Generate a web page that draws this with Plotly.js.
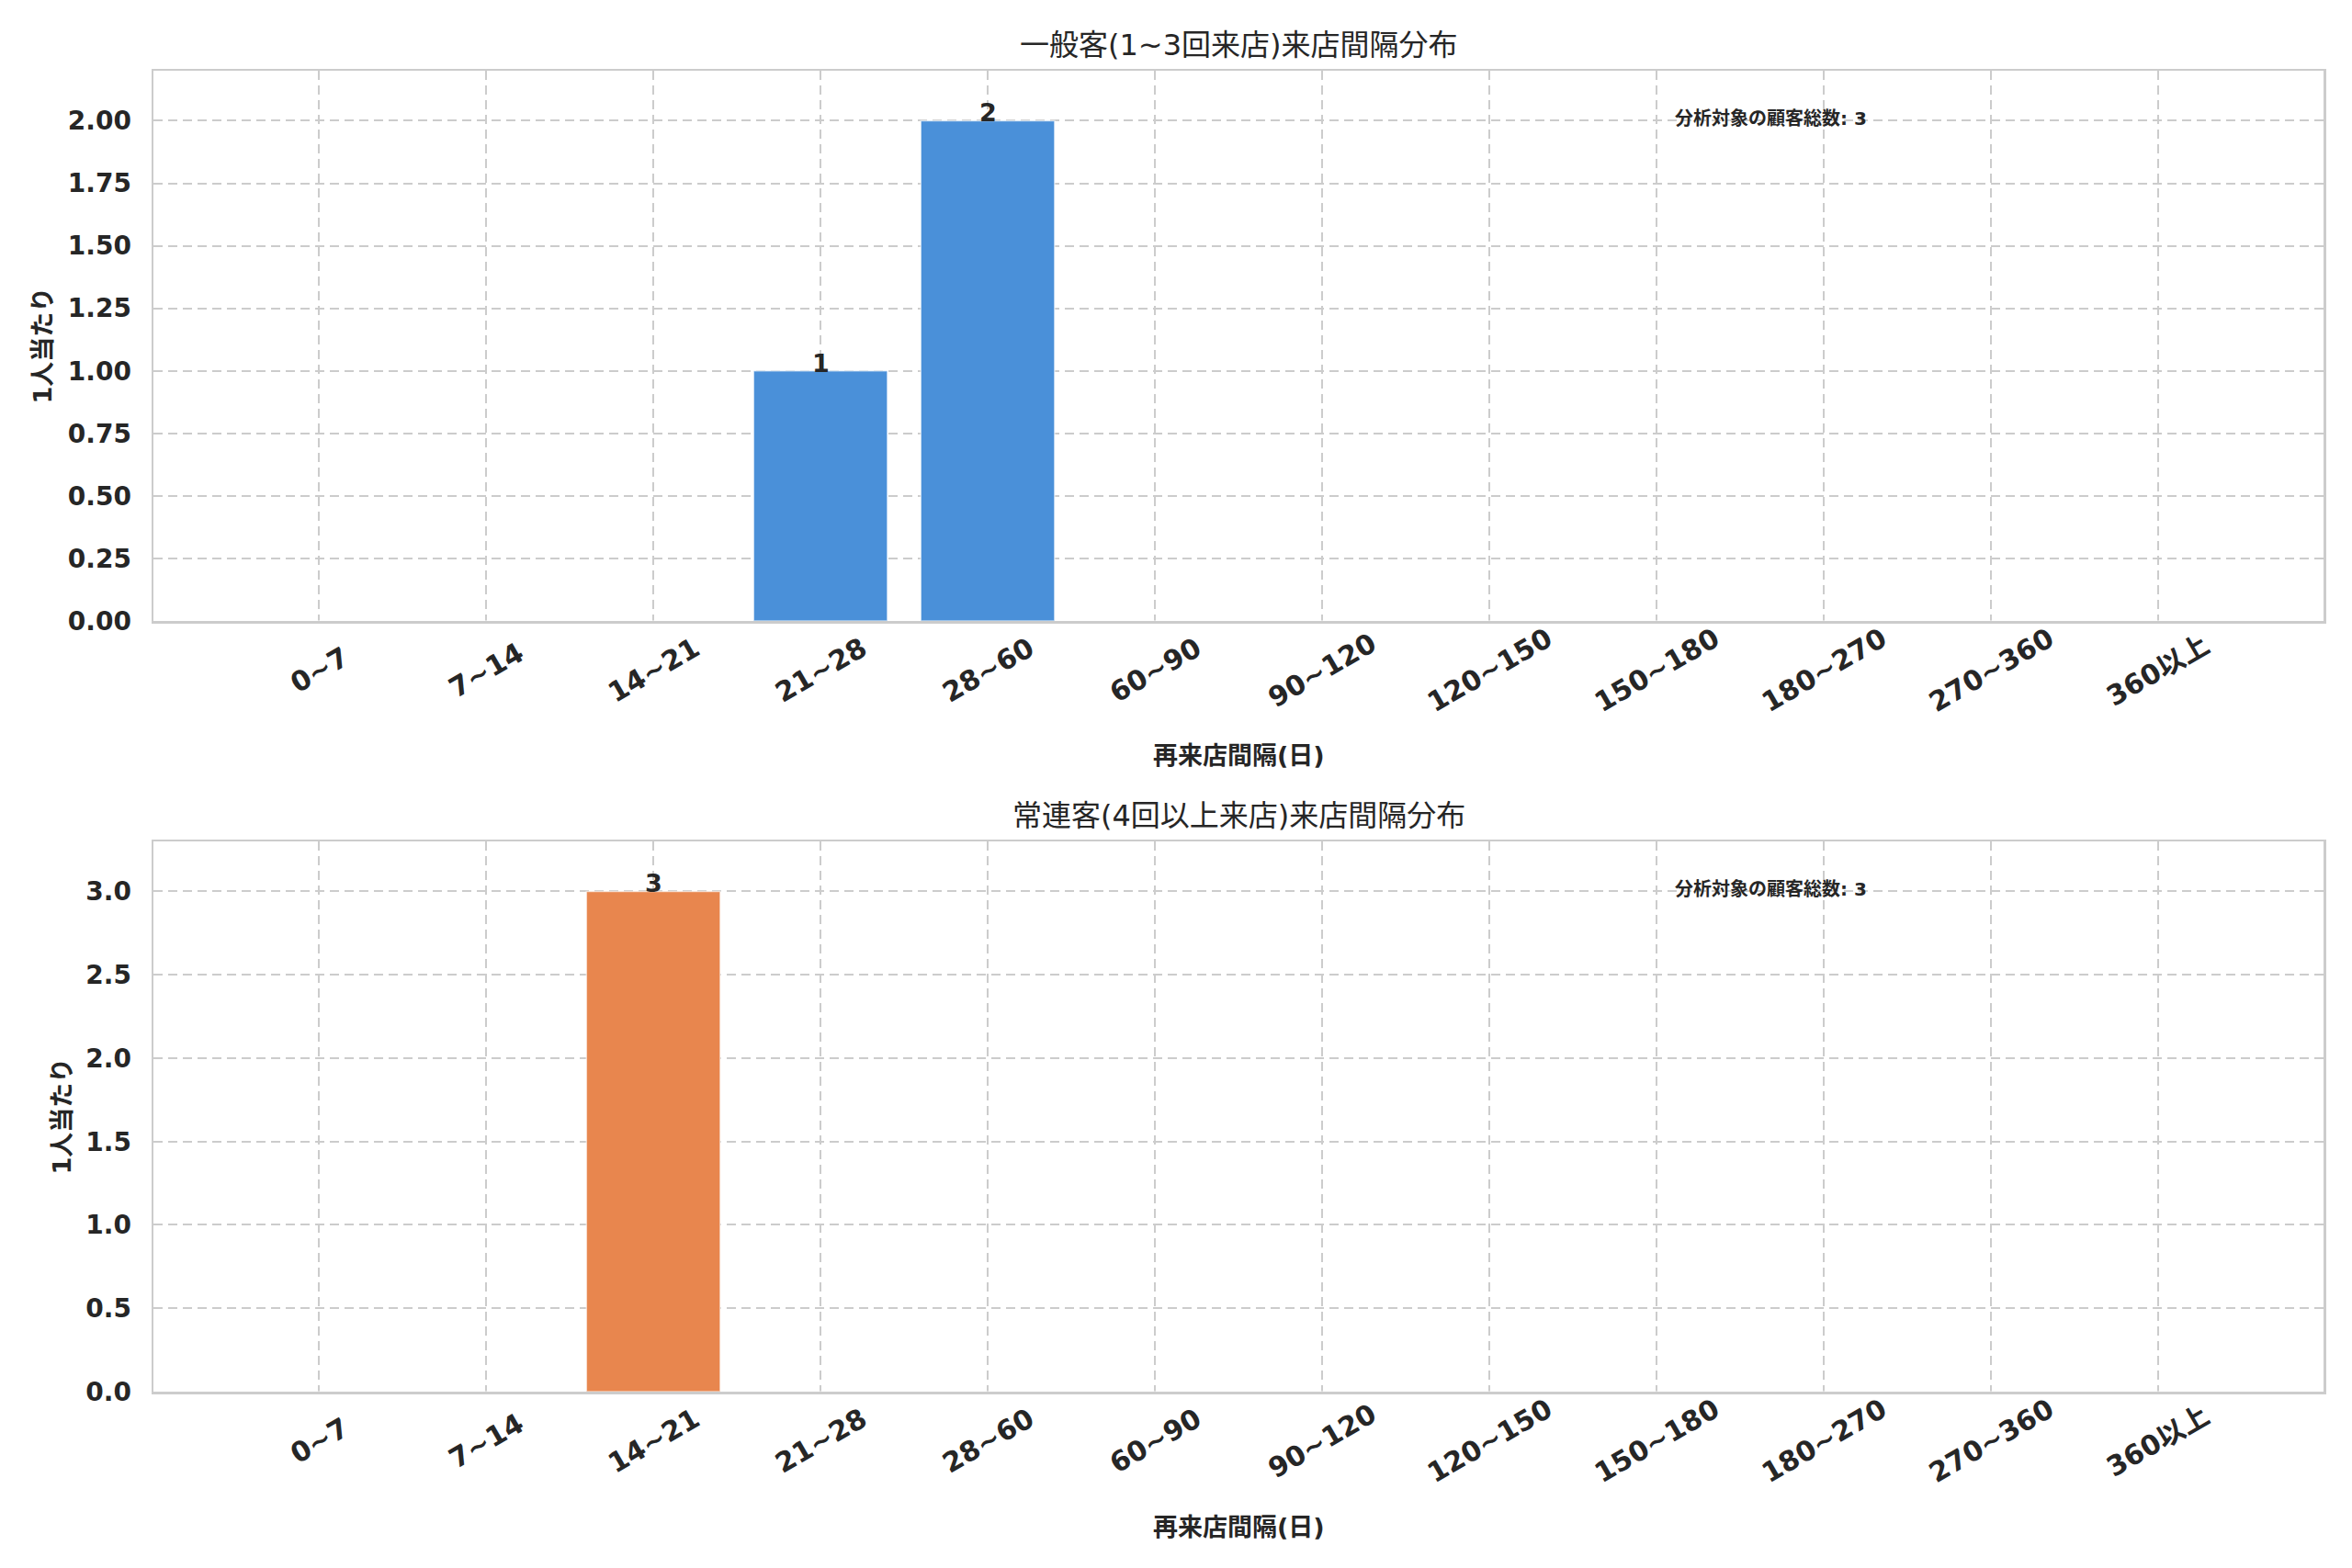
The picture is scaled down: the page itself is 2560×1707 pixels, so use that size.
<!DOCTYPE html>
<html>
<head>
<meta charset="utf-8">
<script src="https://cdn.plot.ly/plotly-3.0.1.min.js"></script>
<style>
  html, body { margin: 0; padding: 0; background: #fff; }
  #chart { width: 2560px; height: 1707px; }
</style>
</head>
<body>
<div id="chart"></div>
<script>
'use strict';

// data
const intervalBins = ['0~7', '7~14', '14~21', '21~28', '28~60', '60~90', '90~120', '120~150', '150~180', '180~270', '270~360', '360以上'];
const lightCounts = [0, 0, 0, 1, 2, 0, 0, 0, 0, 0, 0, 0];
const heavyCounts = [0, 0, 3, 0, 0, 0, 0, 0, 0, 0, 0, 0];
const lightTotal = 3;
const heavyTotal = 3;

const lightTitle = '一般客(1~3回来店)来店間隔分布';
const heavyTitle = '常連客(4回以上来店)来店間隔分布';
const xLabel = '再来店間隔(日)';
const yLabel = '1人当たり';
const totalLabel = '分析対象の顧客総数';

const FONT = 'DejaVu Sans, Noto Sans CJK JP, sans-serif';
const INK = '#262626';
const GRID = '#cccccc';

// panel geometry (paper fractions, margins are zero)
const W = 2560, H = 1707;
const xDom = [167 / W, 2529 / W];
const panels = [
    { counts: lightCounts, total: lightTotal, title: lightTitle, color: '#4a90d9', top: 77, bottom: 676, range: [0, 2.2], dtick: 0.25, fmt: '.2f', ylabX: 46 },
    { counts: heavyCounts, total: heavyTotal, title: heavyTitle, color: '#e8864e', top: 916, bottom: 1515, range: [0, 3.3], dtick: 0.5, fmt: '.1f', ylabX: 67 }
];
const py = px => 1 - px / H;

const traces = [], annotations = [];
const layout = {
    width: W, height: H,
    margin: { l: 0, r: 0, t: 0, b: 0 },
    paper_bgcolor: '#fff', plot_bgcolor: '#fff',
    showlegend: false, bargap: 0.2, hovermode: false,
    font: { family: FONT, color: INK }
};

panels.forEach((p, i) => {
    const n = i + 1, xa = n === 1 ? 'x' : 'x2', ya = n === 1 ? 'y' : 'y2';
    traces.push({
        x: intervalBins, y: p.counts, type: 'bar', xaxis: xa, yaxis: ya, width: 0.8,
        marker: { color: p.color, line: { color: 'rgba(255,255,255,0.6)', width: 1.5 } }
    });
    layout[n === 1 ? 'xaxis' : 'xaxis2'] = {
        domain: xDom, anchor: ya, type: 'category', categoryorder: 'array', categoryarray: intervalBins,
        range: [-0.99, intervalBins.length - 0.01], showticklabels: false, ticks: '',
        showgrid: true, gridcolor: GRID, gridwidth: 2, griddash: '10px,6px',
        showline: true, mirror: true, linecolor: GRID, linewidth: 2.5, zeroline: false
    };
    layout[n === 1 ? 'yaxis' : 'yaxis2'] = {
        domain: [py(p.bottom), py(p.top)], anchor: xa, range: p.range, dtick: p.dtick, tick0: 0, tickformat: p.fmt,
        ticks: '', ticklabelstandoff: 16, tickfont: { family: FONT, size: 28, weight: 'bold', color: INK },
        showgrid: true, gridcolor: GRID, gridwidth: 2, griddash: '10px,6px',
        showline: true, mirror: true, linecolor: GRID, linewidth: 2.5, zeroline: false
    };

    // rotated category labels centred under each tick
    intervalBins.forEach(b => annotations.push({
        x: b, xref: xa, y: py(p.bottom + 53), yref: 'paper', text: b, showarrow: false,
        textangle: -30, xanchor: 'center', yanchor: 'middle',
        font: { family: FONT, size: 30, weight: 'bold', color: INK }
    }));

    // value labels on non-zero bars
    p.counts.forEach((v, k) => {
        if (v > 0) annotations.push({
            x: intervalBins[k], xref: xa, y: v, yref: ya, text: String(v), showarrow: false,
            xanchor: 'center', yanchor: 'bottom', yshift: -9,
            font: { family: FONT, size: 27, weight: 'bold', color: INK }
        });
    });

    annotations.push(
        { x: 0.5 * (xDom[0] + xDom[1]), y: py(p.top - 28), xref: 'paper', yref: 'paper', text: p.title, showarrow: false,
          xanchor: 'center', yanchor: 'middle', font: { family: FONT, size: 32, color: INK } },
        { x: 0.5 * (xDom[0] + xDom[1]), y: py(p.bottom + 147), xref: 'paper', yref: 'paper', text: xLabel, showarrow: false,
          xanchor: 'center', yanchor: 'middle', font: { family: FONT, size: 27, weight: 'bold', color: INK } },
        { x: p.ylabX / W, y: py((p.top + p.bottom) / 2), xref: 'paper', yref: 'paper', text: yLabel, showarrow: false,
          textangle: -90, xanchor: 'center', yanchor: 'middle', font: { family: FONT, size: 27, weight: 'bold', color: INK } },
        { x: 1821 / W, y: py(p.top + 52), xref: 'paper', yref: 'paper', text: totalLabel + ': ' + p.total, showarrow: false,
          xanchor: 'left', yanchor: 'middle', font: { family: FONT, size: 20, weight: 'bold', color: INK } }
    );
});

layout.annotations = annotations;
Plotly.newPlot('chart', traces, layout, { staticPlot: true, displayModeBar: false });
</script>
</body>
</html>
